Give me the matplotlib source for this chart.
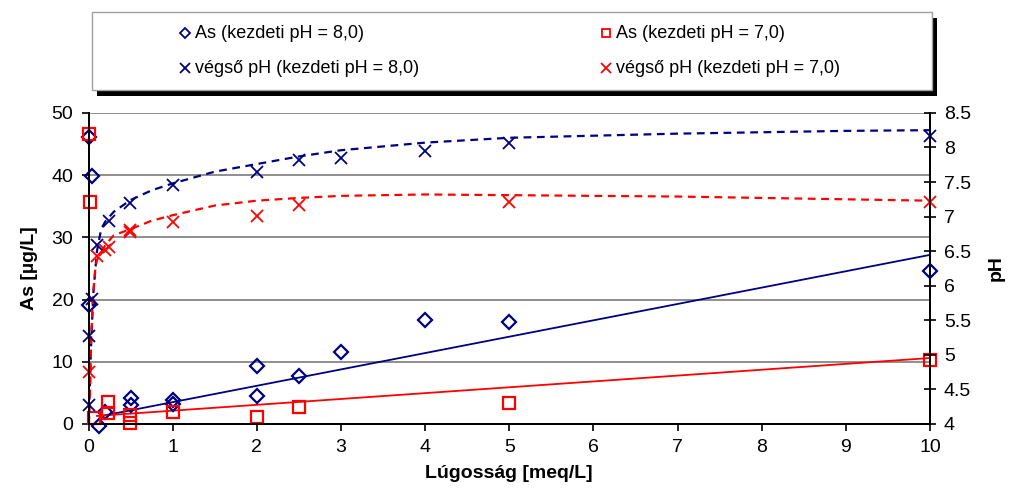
import matplotlib
matplotlib.use('Agg')
import matplotlib.pyplot as plt
from matplotlib.lines import Line2D
from matplotlib.patches import Rectangle
from matplotlib.ticker import MultipleLocator, FormatStrFormatter

plt.rcParams['font.family'] = ['Liberation Sans', 'DejaVu Sans']

NAVY = '#000080'
RED = '#ff0000'

# Measured arsenic, initial pH 8.0
as8_x = [0, 0.04, 0, 0.12, 0.2, 0.5, 0.5, 1, 1, 2, 2, 2.5, 3, 4, 5, 10]
as8_y = [46.2, 39.8, 19.1, -0.3, 2.0, 4.1, 3.0, 3.9, 3.2, 9.3, 4.5, 7.7, 11.6, 16.7, 16.4, 24.6]

# Measured arsenic, initial pH 7.0
as7_x = [0, 0.02, 0.06, 0.23, 0.23, 0.49, 0.49, 1, 2, 2.5, 5, 10]
as7_y = [46.6, 35.7, 1.0, 3.5, 1.7, 1.4, 0.2, 1.9, 1.1, 2.8, 3.3, 10.3]

# Final pH, initial pH 8.0
ph8_x = [0, 0, 0.04, 0.1, 0.24, 0.49, 1, 2, 2.5, 3, 4, 5, 10]
ph8_y = [4.27, 5.27, 5.81, 6.59, 6.94, 7.2, 7.46, 7.65, 7.82, 7.85, 7.95, 8.07, 8.17]

# Final pH, initial pH 7.0
ph7_x = [0, 0.1, 0.2, 0.24, 0.49, 0.49, 1, 2, 2.5, 5, 10]
ph7_y = [4.75, 6.43, 6.52, 6.56, 6.81, 6.78, 6.92, 7.01, 7.17, 7.21, 7.21]

# Modelled pH curves
model8_x = [0.006, 0.033, 0.06, 0.1, 0.15, 0.2, 0.3, 0.5, 0.75, 1.0, 1.5, 2.0, 2.5,
            3.0, 4.0, 5.0, 6.0, 7.0, 8.0, 9.0, 10.0]
model8_y = [4.16, 5.26, 5.94, 6.5, 6.82, 6.93, 7.07, 7.24, 7.38, 7.48, 7.65, 7.76, 7.87,
            7.96, 8.07, 8.14, 8.17, 8.2, 8.22, 8.24, 8.25]
model7_x = [0.005, 0.02, 0.03, 0.05, 0.08, 0.1, 0.2, 0.3, 0.5, 0.75, 1.0, 1.5, 2.0,
            2.5, 3.0, 4.0, 5.0, 6.0, 7.0, 8.0, 9.0, 10.0]
model7_y = [4.0, 4.6, 5.2, 5.8, 6.25, 6.37, 6.59, 6.73, 6.82, 6.94, 7.02, 7.16, 7.23,
            7.27, 7.3, 7.32, 7.31, 7.3, 7.29, 7.27, 7.25, 7.23]

# Linear trends for arsenic: slope, intercept, x range
trend8 = (2.63, 0.88, 0.13, 10)
trend7 = (0.94, 1.2, 0.1, 10)

labels = ['As (kezdeti pH = 8,0)', 'As (kezdeti pH = 7,0)',
          'végső pH (kezdeti pH = 8,0)', 'végső pH (kezdeti pH = 7,0)']


def trend_line(ax, trend, color):
    slope, icpt, x0, x1 = trend
    ax.plot([x0, x1], [icpt + slope * x0, icpt + slope * x1], color=color, lw=1.3, zorder=2)


fig = plt.figure(figsize=(10.12, 4.93), dpi=100)
ax = fig.add_axes([0.0875, 0.14, 0.8315, 0.631])
ax2 = ax.twinx()

# left axis: arsenic
ax.set_xlim(0, 10)
ax.set_ylim(0, 50)
ax.yaxis.set_major_locator(MultipleLocator(10))
ax.xaxis.set_major_locator(MultipleLocator(1))
for y in range(10, 51, 10):
    ax.axhline(y, color='#707070', lw=1.1, zorder=0)

trend_line(ax, trend8, NAVY)
trend_line(ax, trend7, RED)

ax.plot(as8_x, as8_y, ls='none', marker='D', ms=7.5, mfc='none', mec=NAVY, mew=1.6,
        clip_on=False, zorder=3)
ax.plot(as7_x, as7_y, ls='none', marker='s', ms=8.5, mfc='none', mec=RED, mew=1.6,
        clip_on=False, zorder=3)

# right axis: pH
ax2.set_ylim(4, 8.5)
ax2.yaxis.set_major_locator(MultipleLocator(0.5))
ax2.yaxis.set_major_formatter(FormatStrFormatter('%g'))
ax2.plot(model8_x, model8_y, color=NAVY, lw=1.6, ls=(0, (3.5, 2.5)), zorder=2)
ax2.plot(model7_x, model7_y, color=RED, lw=1.6, ls=(0, (3.5, 2.5)), zorder=2)
ax2.plot(ph8_x, ph8_y, ls='none', marker='x', ms=8.5, mec=NAVY, mew=1.3, clip_on=False)
ax2.plot(ph7_x, ph7_y, ls='none', marker='x', ms=8.5, mec=RED, mew=1.3, clip_on=False)

for a in (ax, ax2):
    a.spines['top'].set_visible(False)
    for s in a.spines.values():
        s.set_linewidth(1.3)
ax.tick_params(axis='both', direction='out', length=5, width=1.2, labelsize=14, pad=6)
ax2.tick_params(axis='y', direction='inout', length=8, width=1.2, labelsize=14, pad=6)

ax.set_xlabel('Lúgosság [meq/L]', fontsize=14, fontweight='bold', labelpad=6)
ax.set_ylabel('As [µg/L]', fontsize=14, fontweight='bold', labelpad=10)
ax2.set_ylabel('pH', fontsize=14, fontweight='bold', labelpad=12)

# legend box with a solid shadow
fig.add_artist(Rectangle((0.096, 0.805), 0.830, 0.158, transform=fig.transFigure,
                         facecolor='black', edgecolor='none'))
fig.add_artist(Rectangle((0.091, 0.817), 0.830, 0.158, transform=fig.transFigure,
                         facecolor='white', edgecolor='#a0a0a0', lw=1))
entries = [
    (0.183, 0.933, dict(marker='D', ms=5, mfc='none', mec=NAVY, mew=1.3), labels[0]),
    (0.599, 0.933, dict(marker='s', ms=6, mfc='none', mec=RED, mew=1.3), labels[1]),
    (0.183, 0.862, dict(marker='x', ms=7, mec=NAVY, mew=1.3), labels[2]),
    (0.599, 0.862, dict(marker='x', ms=7, mec=RED, mew=1.3), labels[3]),
]
for x, y, style, text in entries:
    fig.add_artist(Line2D([x], [y], transform=fig.transFigure, ls='none', **style))
    fig.text(x + 0.010, y, text, fontsize=13, va='center', ha='left')

fig.savefig('out.png', dpi=100)
